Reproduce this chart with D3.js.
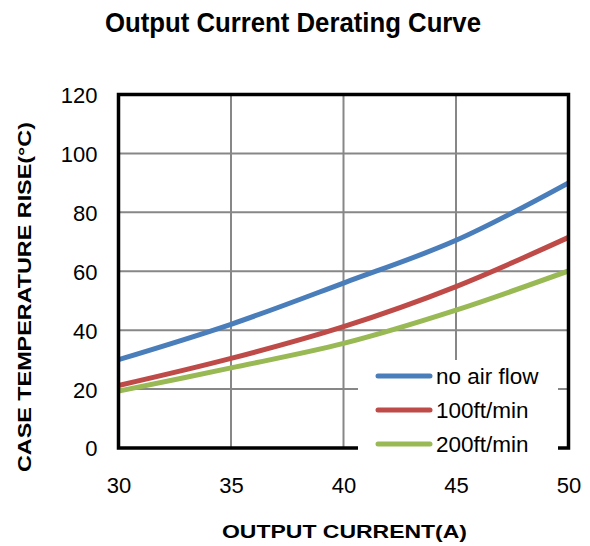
<!DOCTYPE html>
<html>
<head>
<meta charset="utf-8">
<script src="https://cdn.jsdelivr.net/npm/d3@7"></script>
<style>
  html, body { margin: 0; padding: 0; background: #fff; }
  text { font-family: "Liberation Sans", Arial, sans-serif; fill: #000; }
</style>
</head>
<body>
<svg id="chart" width="590" height="546"></svg>
<script>
const currents = [30, 35, 40, 45, 50];
const noAirFlow = [30, 42, 56, 70.5, 90];
const ft100 = [21.2, 30.4, 41.2, 54.8, 71.5];
const ft200 = [19.3, 27.2, 35.5, 46.8, 60.1];
const seriesNames = ["no air flow", "100ft/min", "200ft/min"];
const seriesColors = ["#4A7EBB", "#BE4B48", "#98B954"];
const xTicks = [30, 35, 40, 45, 50];
const yTicks = [0, 20, 40, 60, 80, 100, 120];

const series = [noAirFlow, ft100, ft200].map((vals, i) => ({
  name: seriesNames[i], color: seriesColors[i],
  points: vals.map((v, j) => ({x: currents[j], y: v}))
}));

const svg = d3.select("#chart");
const L = 118.5, R = 568.5, T = 94.5, B = 448;
const x = d3.scaleLinear().domain([30, 50]).range([L, R]);
const y = d3.scaleLinear().domain([0, 120]).range([B, T]);

// title
svg.append("text").attr("x", 293).attr("y", 32).attr("text-anchor", "middle")
  .attr("font-size", 27).attr("font-weight", "bold")
  .attr("textLength", 376).attr("lengthAdjust", "spacingAndGlyphs")
  .text("Output Current Derating Curve");

// grid
const grid = svg.append("g");
grid.selectAll("line.h").data(yTicks.slice(1, -1)).join("line")
  .attr("x1", L).attr("x2", R).attr("y1", d => y(d)).attr("y2", d => y(d))
  .attr("stroke", "#878787").attr("stroke-width", 2);
grid.selectAll("line.v").data(xTicks.slice(1, -1)).join("line")
  .attr("y1", T).attr("y2", B).attr("x1", d => x(d)).attr("x2", d => x(d))
  .attr("stroke", "#878787").attr("stroke-width", 2);

// axes (labels only, via d3 axes)
const yAxis = svg.append("g").attr("transform", `translate(${L},0)`)
  .call(d3.axisLeft(y).tickValues(yTicks).tickSize(0).tickPadding(21));
yAxis.select(".domain").remove();
yAxis.selectAll("text").attr("font-size", 22).attr("font-family", "Liberation Sans, Arial, sans-serif")
  .attr("fill", "#000").attr("dy", "0.36em");

const xAxis = svg.append("g").attr("transform", `translate(0,${B})`)
  .call(d3.axisBottom(x).tickValues(xTicks).tickSize(0).tickPadding(29));
xAxis.select(".domain").remove();
xAxis.selectAll("text").attr("font-size", 22).attr("font-family", "Liberation Sans, Arial, sans-serif")
  .attr("fill", "#000");

// lines
const line = d3.line().x(d => x(d.x)).y(d => y(d.y)).curve(d3.curveCatmullRom.alpha(0.5));
svg.append("defs").append("clipPath").attr("id", "clip")
  .append("rect").attr("x", L).attr("y", T).attr("width", R - L).attr("height", B - T);
svg.append("g").attr("clip-path", "url(#clip)")
  .selectAll("path").data(series).join("path")
  .attr("d", d => line(d.points)).attr("fill", "none")
  .attr("stroke", d => d.color).attr("stroke-width", 5);

// border
svg.append("rect").attr("x", L).attr("y", T).attr("width", R - L).attr("height", B - T)
  .attr("fill", "none").attr("stroke", "#000").attr("stroke-width", 3.5);

// legend (drawn over the border, as in the reference)
const lg = svg.append("g");
lg.append("rect").attr("x", 358).attr("y", 360).attr("width", 200).attr("height", 100).attr("fill", "#fff");
const items = lg.selectAll("g").data(series).join("g")
  .attr("transform", (d, i) => `translate(0,${376 + i * 34})`);
items.append("line").attr("x1", 378).attr("x2", 430).attr("y1", 0).attr("y2", 0)
  .attr("stroke", d => d.color).attr("stroke-width", 5).attr("stroke-linecap", "round");
items.append("text").attr("x", 436).attr("y", 0).attr("dy", "0.36em")
  .attr("font-size", 22.5).text(d => d.name);

// axis titles
svg.append("text").attr("x", 344.5).attr("y", 538).attr("text-anchor", "middle")
  .attr("font-size", 18).attr("font-weight", "bold")
  .attr("textLength", 245).attr("lengthAdjust", "spacingAndGlyphs")
  .text("OUTPUT CURRENT(A)");
svg.append("text").attr("transform", "translate(31,297) rotate(-90)").attr("text-anchor", "middle")
  .attr("font-size", 19).attr("font-weight", "bold")
  .attr("textLength", 350).attr("lengthAdjust", "spacingAndGlyphs")
  .text("CASE TEMPERATURE RISE(°C)");
</script>
</body>
</html>
